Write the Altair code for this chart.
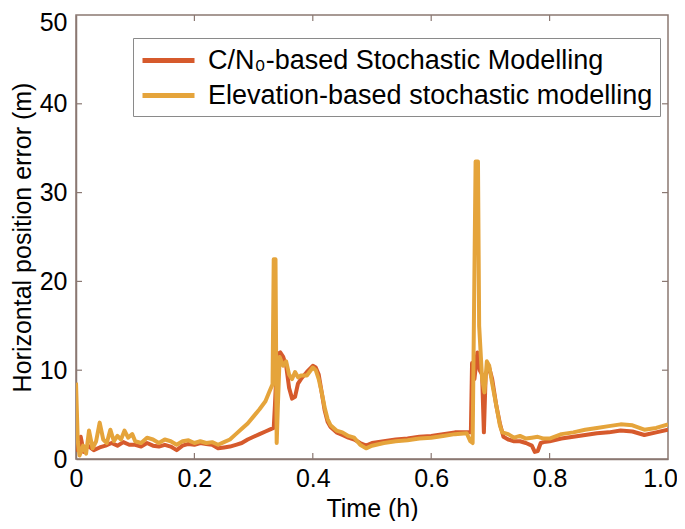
import altair as alt
import pandas as pd

# C/N0-based stochastic modelling (red)
cn0_t = [0, 0.003, 0.008, 0.013, 0.02, 0.03, 0.04, 0.05, 0.06, 0.07, 0.08, 0.09, 0.1, 0.11, 0.12, 0.13,
         0.14, 0.15, 0.16, 0.17, 0.18, 0.19, 0.2, 0.21, 0.22, 0.23, 0.24, 0.25, 0.26, 0.27, 0.28, 0.29,
         0.30, 0.31, 0.32, 0.33, 0.334, 0.336, 0.34, 0.345, 0.35, 0.355, 0.36, 0.365, 0.37, 0.375, 0.38,
         0.39, 0.40, 0.405, 0.41, 0.415, 0.42, 0.425, 0.43, 0.44, 0.45, 0.46, 0.47, 0.48, 0.49, 0.5,
         0.52, 0.54, 0.56, 0.58, 0.6, 0.62, 0.64, 0.66, 0.667, 0.669, 0.673, 0.678, 0.682, 0.686, 0.689,
         0.692, 0.697, 0.703, 0.71, 0.716, 0.722, 0.73, 0.74, 0.75, 0.76, 0.77, 0.775, 0.78, 0.785, 0.79,
         0.8, 0.82, 0.84, 0.86, 0.88, 0.9, 0.92, 0.94, 0.96, 0.98, 1.0]
cn0_v = [5.0, 1.0, 2.5, 0.8, 1.5, 1.0, 1.3, 1.5, 1.8, 1.5, 1.9, 1.6, 1.6, 1.4, 1.8, 1.5,
         1.4, 1.6, 1.4, 1.0, 1.5, 1.7, 1.6, 1.8, 1.7, 1.6, 1.2, 1.3, 1.4, 1.6, 1.8, 2.2,
         2.5, 2.8, 3.1, 3.4, 3.5, 6.0, 11.8, 12.0, 11.5, 10.5, 8.0, 6.8, 7.0, 8.5, 9.0,
         9.8, 10.5, 10.3, 9.5, 7.5, 5.5, 4.2, 3.6, 3.0, 2.7, 2.4, 2.2, 1.8, 1.5, 1.8,
         2.0, 2.2, 2.3, 2.5, 2.6, 2.8, 3.0, 3.0, 3.0, 10.8, 9.0, 12.0, 10.0, 9.5, 3.0,
         9.5, 10.5, 9.0, 6.0, 4.0, 2.5, 2.2, 2.0, 2.0, 1.8, 1.5, 0.8, 0.9, 1.8, 1.9,
         2.0, 2.3, 2.5, 2.7, 2.9, 3.0, 3.2, 3.1, 2.7, 3.0, 3.3]

# Elevation-based stochastic modelling (gold)
elev_t = [0, 0.003, 0.006, 0.012, 0.017, 0.022, 0.028, 0.034, 0.04, 0.046, 0.052, 0.058, 0.064, 0.07,
          0.076, 0.082, 0.088, 0.095, 0.1, 0.11, 0.12, 0.13, 0.14, 0.15, 0.16, 0.17, 0.18, 0.19, 0.2,
          0.21, 0.22, 0.23, 0.24, 0.25, 0.26, 0.27, 0.28, 0.29, 0.30, 0.31, 0.32, 0.328, 0.332, 0.334,
          0.337, 0.339, 0.341, 0.344, 0.35, 0.355, 0.36, 0.365, 0.37, 0.375, 0.38, 0.39, 0.40, 0.405,
          0.41, 0.415, 0.42, 0.425, 0.43, 0.44, 0.45, 0.46, 0.47, 0.48, 0.49, 0.5, 0.52, 0.54, 0.56,
          0.58, 0.6, 0.62, 0.64, 0.66, 0.666, 0.670, 0.675, 0.679, 0.681, 0.686, 0.69, 0.694, 0.698,
          0.703, 0.71, 0.716, 0.72, 0.73, 0.74, 0.75, 0.76, 0.77, 0.78, 0.79, 0.8, 0.82, 0.84, 0.86,
          0.88, 0.9, 0.92, 0.94, 0.96, 0.98, 1.0]
elev_v = [8.6, 2.0, 0.4, 1.5, 0.6, 3.2, 1.2, 2.0, 4.1, 2.2, 1.8, 3.3, 2.0, 2.6,
          2.2, 3.2, 2.4, 2.8, 2.0, 1.8, 2.4, 2.2, 1.8, 2.2, 2.0, 1.6, 2.0, 2.1, 1.8,
          2.0, 1.8, 1.9, 1.6, 1.9, 2.2, 2.8, 3.4, 4.0, 4.8, 5.6, 6.5, 7.8, 8.4, 22.5,
          22.5, 1.8, 6.0, 11.5, 10.5, 11.0, 9.5, 9.0, 9.8, 9.2, 9.4, 9.4, 10.3, 10.0,
          9.0, 7.5, 5.8, 4.5, 3.8, 3.2, 3.0, 2.6, 2.4, 1.6, 1.2, 1.5, 1.8, 2.0, 2.1,
          2.3, 2.4, 2.6, 2.8, 2.9, 2.0, 1.8, 33.5, 33.5, 15.0, 9.0, 7.5, 11.0, 10.5,
          8.5, 6.0, 3.8, 3.0, 2.8, 2.4, 2.6, 2.3, 2.4, 2.5, 2.3, 2.3, 2.8, 3.0, 3.3,
          3.5, 3.7, 3.9, 3.8, 3.3, 3.5, 3.9]

series_names = ["C/N₀-based Stochastic Modelling", "Elevation-based stochastic modelling"]
series_colors = ["#D65A2C", "#E5A43B"]

x_ticks = [0, 0.2, 0.4, 0.6, 0.8, 1.0]
y_ticks = [0, 10, 20, 30, 40, 50]

AXIS_COLOR = "#8A7872"
FONT = "Liberation Sans"
W, H = 592, 444

df = pd.concat([
    pd.DataFrame({"t": cn0_t, "v": cn0_v, "s": series_names[0]}),
    pd.DataFrame({"t": elev_t, "v": elev_v, "s": series_names[1]}),
])

xs = alt.Scale(domain=[0, 1], nice=False)
ys = alt.Scale(domain=[0, 50], nice=False)
cs = alt.Scale(domain=series_names, range=series_colors)

base = alt.Chart(df)

def line_layer(name):
    return base.transform_filter(alt.datum.s == name).mark_line(
        strokeWidth=4, strokeJoin="round", clip=True
    ).encode(
        x=alt.X("t:Q", scale=xs,
                axis=alt.Axis(values=x_ticks, title="Time (h)", ticks=False,
                              labelExpr="datum.value == 0 ? '0' : format(datum.value, '.1f')",
                              grid=False, domainColor=AXIS_COLOR, domainWidth=1.5,
                              labelFontSize=25, titleFontSize=25, labelFont=FONT, titleFont=FONT,
                              labelColor="black", titleColor="black", titleFontWeight="normal",
                              labelPadding=7, titlePadding=5, labelFlush=False,
                              labelOffset={"condition": {"test": "datum.value == 1", "value": -8}, "value": 0})),
        y=alt.Y("v:Q", scale=ys,
                axis=alt.Axis(values=y_ticks, title="Horizontal position error (m)", ticks=False,
                              grid=False, domainColor=AXIS_COLOR, domainWidth=1.5,
                              labelFontSize=25, titleFontSize=25, labelFont=FONT, titleFont=FONT,
                              labelColor="black", titleColor="black", titleFontWeight="normal",
                              labelPadding=9, titlePadding=4, labelFlush=False,
                              labelOffset={"condition": {"test": "datum.value == 50", "value": 7}, "value": 0})),
        color=alt.Color("s:N", scale=cs, legend=alt.Legend(
            title=None, orient="none", legendX=57, legendY=23,
            symbolType="M-2,0H2", symbolSize=676, symbolStrokeWidth=5,
            symbolOffset=13, labelOffset=24,
            labelFontSize=27, labelFont=FONT, labelColor="black", labelLimit=600,
            strokeColor="#8A8A8A", padding=7, rowPadding=6,
            fillColor="white")),
    )

# inward ticks (MATLAB style) on all four sides
yt = pd.DataFrame({"v": y_ticks[1:-1]})
xt = pd.DataFrame({"t": x_ticks[1:-1]})
tick_left = alt.Chart(yt).mark_rule(color=AXIS_COLOR, strokeWidth=1.2).encode(
    y=alt.Y("v:Q", scale=ys), x=alt.value(0), x2=alt.value(6))
tick_right = alt.Chart(yt).mark_rule(color=AXIS_COLOR, strokeWidth=1.2).encode(
    y=alt.Y("v:Q", scale=ys), x=alt.value(W - 6), x2=alt.value(W))
tick_bottom = alt.Chart(xt).mark_rule(color=AXIS_COLOR, strokeWidth=1.2).encode(
    x=alt.X("t:Q", scale=xs), y=alt.value(H), y2=alt.value(H - 6))
tick_top = alt.Chart(xt).mark_rule(color=AXIS_COLOR, strokeWidth=1.2).encode(
    x=alt.X("t:Q", scale=xs), y=alt.value(0), y2=alt.value(6))

chart = alt.layer(
    tick_left, tick_right, tick_bottom, tick_top,
    line_layer(series_names[0]), line_layer(series_names[1]),
).properties(
    width=W, height=H, background="white",
    autosize=alt.AutoSizeParams(type="none"),
    padding={"left": 68, "top": 7, "right": 9, "bottom": 62},
).configure_view(
    stroke=AXIS_COLOR, strokeWidth=1.5
)

chart.save("out.html", embed_options={"renderer": "svg", "actions": False})
